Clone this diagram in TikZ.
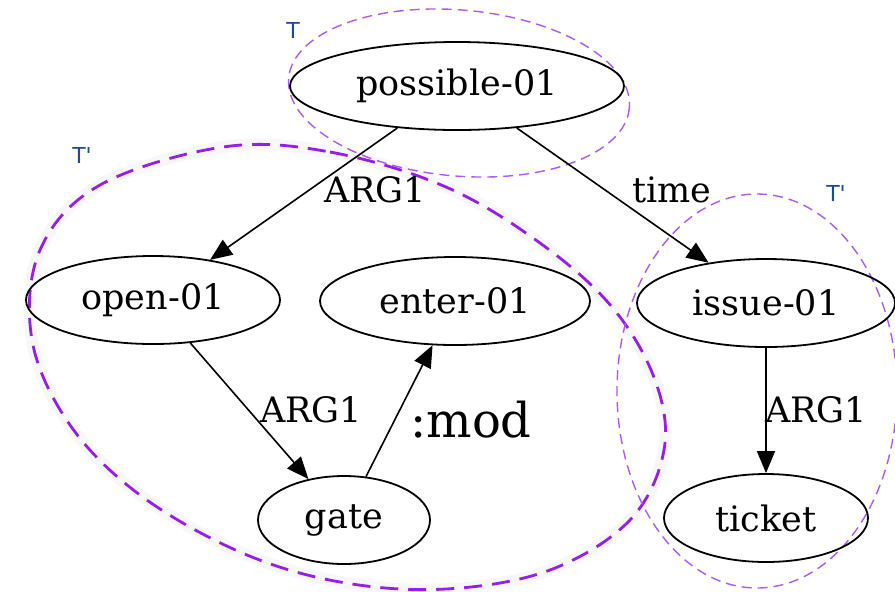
\documentclass[tikz,border=0pt]{standalone}
\usepackage{fontspec}
\setmainfont{DejaVu Serif}
\newfontfamily\tagfont{DejaVu Sans}
\usetikzlibrary{shapes.geometric, arrows.meta}
\definecolor{grpdark}{RGB}{150,30,230}
\definecolor{grplight}{RGB}{170,90,245}
\definecolor{tagblue}{RGB}{30,75,150}
\tikzset{ v/.style = { ellipse
                       , draw
                       , line width   = 0.9pt
                       , inner sep    = 0pt
                       , minimum height = 44pt
                       , font         = \fontsize{17.5}{21}\selectfont
                       },
          rel/.style = { -{Triangle[length=11pt, width=9pt]}
                       , line width   = 0.8pt
                       },
          lbl/.style = { inner sep    = 1pt
                       , font         = \fontsize{17.5}{21}\selectfont
                       },
          grpthin/.style = { draw = grplight
                           , dash pattern = on 5pt off 3pt
                           , line width   = 0.7pt
                           },
          grpthick/.style = { draw = grpdark
                            , dash pattern = on 9pt off 5pt
                            , line width   = 1.4pt
                            , preaction = {draw = black!3, line width = 6pt, solid}
                            },
          tag/.style = { text = tagblue
                       , font = \tagfont\fontsize{11}{13}\selectfont
                       }
        }
\begin{document}
\begin{tikzpicture}[x=0.5pt, y=-0.5pt]
    \useasboundingbox (0,0) rectangle (895,591);
    % subgraph regions (halo under the graph)
    \draw[grpthick] plot[smooth cycle, tension=0.6] coordinates
        {(223,147) (330,152) (446,187) (540,243) (612,307) (655,380) (664,450)
         (630,520) (550,570) (446,589) (340,582) (240,552) (140,495)
         (70,425) (32,340) (40,250) (100,185)};
    \draw[grpthin, rotate around={-5:(459,93)}] (459,93) ellipse [x radius=171, y radius=83];
    \draw[grpthin] (757,391) ellipse [x radius=140, y radius=197];

    % AMR graph
    \node[v, minimum width=167pt] (possible) at (457,86)  {possible-01};
    \node[v, minimum width=127pt] (open)     at (153,300) {open-01};
    \node[v, minimum width=135pt] (enter)    at (455,301) {enter-01};
    \node[v, minimum width=129pt] (issue)    at (766,303) {issue-01};
    \node[v, minimum width=86pt]  (gate)     at (344,520) {gate};
    \node[v, minimum width=102pt] (ticket)   at (766,518) {ticket};

    \draw[rel] (possible) -- (open);
    \draw[rel] (possible) -- (issue);
    \draw[rel] (open)     -- (gate);
    \draw[rel] (gate)     -- (enter);
    \draw[rel] (issue)    -- (ticket);

    \node[lbl] (l-arg-open)   at (375,190) {ARG1};
    \node[lbl] (l-time)       at (672,190) {time};
    \node[lbl] (l-arg-gate)   at (311,410) {ARG1};
    \node[lbl, font=\fontsize{24}{28}\selectfont] (l-mod) at (471,420) {:mod};
    \node[lbl] (l-arg-ticket) at (816,410) {ARG1};

    \node[tag] (t-top)   at (293,30)  {T};
    \node[tag] (t-left)  at (82,155)  {T'};
    \node[tag] (t-right) at (836,193) {T'};
\end{tikzpicture}
\end{document}
